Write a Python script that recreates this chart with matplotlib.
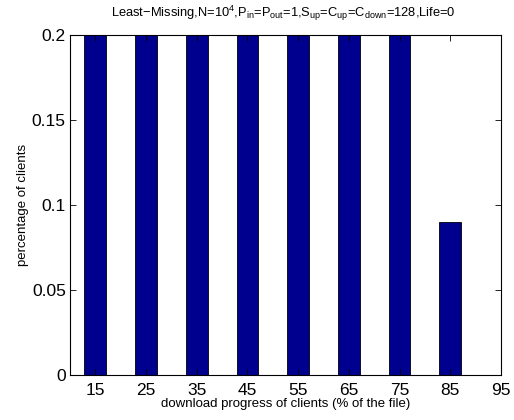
import matplotlib
matplotlib.use("Agg")
import matplotlib.pyplot as plt

plt.rcParams['font.family'] = ['Liberation Sans', 'DejaVu Sans']
plt.rcParams['mathtext.fontset'] = 'custom'
plt.rcParams['mathtext.rm'] = 'Liberation Sans'
plt.rcParams['mathtext.it'] = 'Liberation Sans:italic'

progress = [15, 25, 35, 45, 55, 65, 75, 85, 95]
# bars 15..75 run off the top of the axis (clipped at 0.2)
share = [0.2, 0.2, 0.2, 0.2, 0.2, 0.2, 0.2, 0.09, 0.0]
yticks = [0, 0.05, 0.1, 0.15, 0.2]
ytick_labels = ['0', '0.05', '0.1', '0.15', '0.2']

fig = plt.figure(figsize=(5.14, 4.2), dpi=100)
ax = fig.add_axes([70 / 514, 45 / 420, 431 / 514, 340 / 420])

ax.bar(progress, share, width=4.3, color='#00008f', edgecolor='black', linewidth=0.6)

ax.set_xlim(10, 95)
ax.set_ylim(0, 0.2)
ax.set_xticks(progress)
ax.set_yticks(yticks)
ax.set_yticklabels(ytick_labels)
ax.tick_params(direction='in', labelsize=12.5, top=True, right=True, length=4, width=0.6, pad=3)
ax.tick_params(axis='x', pad=6)
for s in ax.spines.values():
    s.set_linewidth(0.8)

ax.set_xlabel('download progress of clients (% of the file)', fontsize=9.5, labelpad=0)
ax.set_ylabel('percentage of clients', fontsize=9.5, labelpad=2)
title = (r'Least$-$Missing,N=10$^4$,P$_{\rm in}$=P$_{\rm out}$=1,'
         r'S$_{\rm up}$=C$_{\rm up}$=C$_{\rm down}$=128,Life=0')
fig.text(283 / 514, 1 - 13 / 420, title, fontsize=9.3, ha='center', va='center')

fig.savefig('out.png', dpi=100)
